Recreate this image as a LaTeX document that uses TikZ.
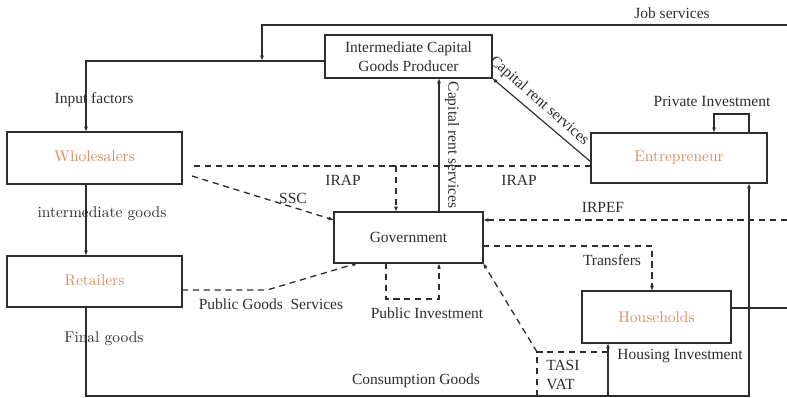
\documentclass[tikz,border=0pt]{standalone}
\usepackage{fontspec}
\newfontfamily\tms{Liberation Serif}
\usetikzlibrary{arrows.meta}
\definecolor{ink}{RGB}{45,45,45}
\definecolor{agent}{RGB}{222,138,95}
\begin{document}
\begin{tikzpicture}[x=0.645pt,y=-0.645pt,
  box/.style={draw=ink,line width=0.85pt,inner sep=0pt,outer sep=0pt,text=agent},
  flow/.style={draw=ink,line width=0.75pt},
  tax/.style={draw=ink,line width=0.85pt,dash pattern=on 4pt off 3pt},
  tip/.style={-{Latex[length=3.5pt,width=2.6pt]}},
  lbl/.style={text=ink,inner sep=0pt,font=\tms},
  lblcm/.style={text=ink,inner sep=0pt}]
\useasboundingbox (0,0) rectangle (787,397);

% agents
\node[box,text=ink,font=\tms,align=center,minimum width=107.7pt,minimum height=27.7pt] (icp) at (408.5,56.5) {Intermediate Capital\\Goods Producer};
\node[box,minimum width=112.9pt,minimum height=33.5pt] (whl) at (94.5,158) {\raisebox{2pt}{Wholesalers}};
\node[box,minimum width=112.9pt,minimum height=32.9pt] (ret) at (94.5,281.5) {\raisebox{2pt}{Retailers}};
\node[box,text=ink,font=\tms,minimum width=96.1pt,minimum height=32.9pt] (gov) at (408.5,237.5) {Government};
\node[box,minimum width=113.5pt,minimum height=32.3pt] (ent) at (679,158) {Entrepreneur};
\node[box,minimum width=96.1pt,minimum height=33.5pt] (hh) at (656.5,317) {\raisebox{-2pt}{Households}};

% bends and free ends
\coordinate (jsR) at (787,25);
\coordinate (jsC) at (262,25);
\coordinate (jsT) at (262,61);
\coordinate (inA) at (86,61);
\coordinate (bl) at (86,396);
\coordinate (br) at (749,396);
\coordinate (hi) at (608,396);
\coordinate (hhR) at (787,308);
\coordinate (crv) at (439,0);
\coordinate (crd) at (591,162);
\coordinate (irL) at (192,166);
\coordinate (irR) at (591,166);
\coordinate (irD) at (396,166);
\coordinate (sscA) at (192,176);
\coordinate (sscB) at (334,220);
\coordinate (pgA) at (182,290);
\coordinate (pgB) at (267,290);
\coordinate (pgC) at (358,263);
\coordinate (piA) at (386,299);
\coordinate (piB) at (439,299);
\coordinate (irpR) at (787,220);
\coordinate (trA) at (483,246);
\coordinate (trB) at (652,246);
\coordinate (tvA) at (537,352);
\coordinate (tvB) at (608,352);
\coordinate (tvC) at (537,396);
\coordinate (pvA) at (749,114);
\coordinate (pvB) at (714,114);

% real flows
\draw[flow,tip] (jsR) -- (jsC) -- (jsT);
\draw[flow,tip] (icp.west |- inA) -- (inA) -- (inA |- whl.north);
\draw[flow,tip] (inA |- whl.south) -- (inA |- ret.north);
\draw[flow,tip] (inA |- ret.south) -- (bl) -- (br) -- (br |- ent.south);
\draw[flow,tip] (hi) -- (hi |- hh.south);
\draw[flow] (hh.east |- hhR) -- (hhR);
\draw[flow,tip] (crv |- gov.north) -- (crv |- icp.south);
\draw[flow,tip] (crd) -- (icp.south east);
\draw[flow,tip] (pvA |- ent.north) -- (pvA) -- (pvB) -- (pvB |- ent.north);

% fiscal flows
\draw[tax] (irR) -- (irL);
\draw[tax,tip] (irD) -- (irD |- gov.north);
\draw[tax,tip] (sscA) -- (gov.west |- sscB);
\draw[tax,tip] (ret.east |- pgA) -- (pgB) -- (pgC |- gov.south);
\draw[tax,tip] (piA |- gov.south) -- (piA) -- (piB) -- (piB |- gov.south);
\draw[tax,tip] (irpR) -- (gov.east |- irpR);
\draw[tax,tip] (gov.east |- trA) -- (trB) -- (trB |- hh.north);
\draw[tax] (tvC) -- (tvA) -- (tvB);
\draw[tax,tip] (tvA) -- (gov.south east);

% labels
\node[lbl] (lJob) at (672,13) {Job services};
\node[lbl] (lInp) at (94,100) {Input factors};
\node[lblcm] (lInt) at (102,214) {intermediate goods};
\node[lblcm] (lFin) at (104,339) {Final goods};
\node[lbl] (lPG) at (271,304) {Public Goods\ \ Services};
\node[lbl] (lSSC) at (293,198) {SSC};
\node[lbl] (lIr1) at (343,180) {IRAP};
\node[lbl] (lIr2) at (519,180) {IRAP};
\node[lbl] (lIrp) at (603,207) {IRPEF};
\node[lbl] (lTr) at (612,260) {Transfers};
\node[lbl] (lPI) at (427,313) {Public Investment};
\node[lbl] (lHI) at (680,356) {Housing Investment};
\node[lbl,anchor=west,align=left] (lTV) at (546,375) {TASI\\VAT};
\node[lbl] (lCG) at (416,381) {Consumption Goods};
\node[lbl] (lPvI) at (712,101) {Private Investment};
\node[lbl,rotate=-90] (lCR1) at (452,145) {Capital rent services};
\node[lbl,rotate=-41.3] (lCR2) at (539,101) {Capital rent services};
\end{tikzpicture}
\end{document}
